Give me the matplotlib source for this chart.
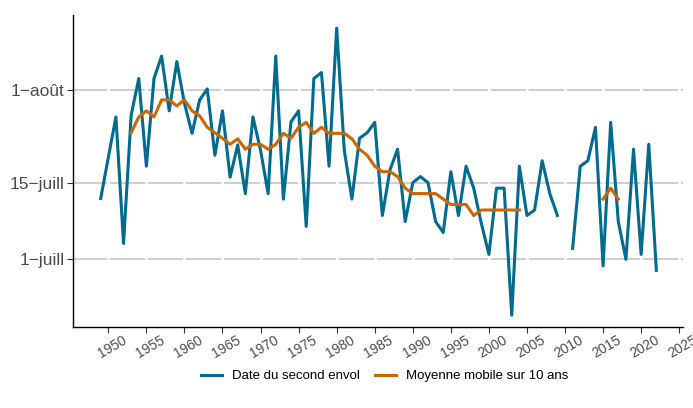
import numpy as np
import matplotlib.pyplot as plt
import matplotlib.transforms as mtransforms

plt.rcParams['font.family'] = ['Liberation Sans', 'DejaVu Sans']

# jour de l'envol : 1 = 1er juillet, 15 = 15 juillet, 32 = 1er août
annees = list(range(1949, 2023))
envol = [12.1, 19.6, 27.0, 3.9, 27.3, 34.0, 18.0, 34.0, 38.1, 28.1,
         37.1, 29.5, 24.0, 30.1, 32.1, 20.0, 28.1, 16.0, 21.9, 13.0,
         27.0, 20.9, 13.0, 38.1, 12.0, 26.1, 28.1, 7.0, 34.0, 35.1,
         18.0, 43.2, 20.9, 12.0, 23.1, 24.1, 26.0, 9.0, 17.3, 21.1,
         7.9, 15.0, 16.1, 15.0, 7.9, 5.9, 17.0, 9.0, 18.0, 14.0,
         7.6, 1.9, 14.0, 14.0, -9.2, 18.0, 9.0, 10.0, 19.0, 13.0,
         9.0, np.nan, 3.0, 18.0, 19.0, 25.1, -0.2, 26.0, 7.9, 1.0,
         21.1, 1.9, 22.0, -1.0]

annees_mm = list(range(1953, 2005)) + [2015, 2016, 2017]
moyenne = [24.1, 27.0, 28.1, 27.0, 30.1, 30.1, 29.0, 30.1, 28.1, 27.2,
           25.1, 24.1, 23.1, 22.0, 23.0, 21.1, 22.0, 22.0, 21.1, 22.0,
           24.0, 23.1, 25.1, 26.0, 24.0, 25.1, 24.0, 24.0, 24.0, 23.0,
           21.1, 20.0, 18.0, 17.0, 17.0, 16.1, 14.0, 13.0, 13.0, 13.0,
           13.0, 12.0, 11.0, 11.0, 11.0, 9.0, 10.0, 10.0, 10.0, 10.0,
           10.0, 10.0, 12.0, 14.0, 12.0]

yticks = [1, 15, 32]
ylabels = ['1\u2212juill', '15\u2212juill', '1\u2212août']
xticks = list(range(1950, 2030, 5))

fig = plt.figure(figsize=(6.93, 4.08), dpi=100)
ax = fig.add_axes([73 / 693, 81 / 408, 610 / 693, 312 / 408])

# moyenne mobile : coupure entre 2004 et 2015
mm = np.array(moyenne)
xm = np.array(annees_mm, dtype=float)
cut = np.where(np.diff(xm) > 1)[0] + 1
xm = np.insert(xm, cut, np.nan)
mm = np.insert(mm, cut, np.nan)

ax.plot(annees, envol, color='#006b8f', lw=2.2, label='Date du second envol', zorder=3)
ax.plot(xm, mm, color='#cc6600', lw=2.2, label='Moyenne mobile sur 10 ans', zorder=4)

for y in yticks:
    ax.axhline(y, color='#cacaca', lw=1.3, zorder=1)
for x in xticks:
    ax.axvline(x, color='white', lw=1.8, zorder=2)

ax.set_xlim(1945.36, 2025.5)
ax.set_ylim(-11.35, 45.6)
ax.set_yticks(yticks)
ax.set_yticklabels(ylabels, fontsize=12.5, color='#4d4d4d')
ax.set_xticks(xticks)
ax.set_xticklabels([str(x) for x in xticks], fontsize=10, color='#4d4d4d',
                   rotation=30, ha='center', va='top')
ax.tick_params(axis='both', length=4, width=0.8, color='#333333')
ax.tick_params(axis='x', pad=0.5)
ax.tick_params(axis='y', pad=2)

# petit décalage des années vers la droite
decal = mtransforms.ScaledTranslation(4 / 100, 0, fig.dpi_scale_trans)
for lab in ax.get_xticklabels():
    lab.set_transform(lab.get_transform() + decal)

for s in ['top', 'right']:
    ax.spines[s].set_visible(False)
for s in ['left', 'bottom']:
    ax.spines[s].set_color('black')
    ax.spines[s].set_linewidth(1.0)

fig.legend(loc='center', bbox_to_anchor=(0.555, 0.078), ncol=2, frameon=False,
           fontsize=9.5, handlelength=1.6, columnspacing=1.1, handletextpad=0.8)

fig.savefig('out.png', dpi=100)
